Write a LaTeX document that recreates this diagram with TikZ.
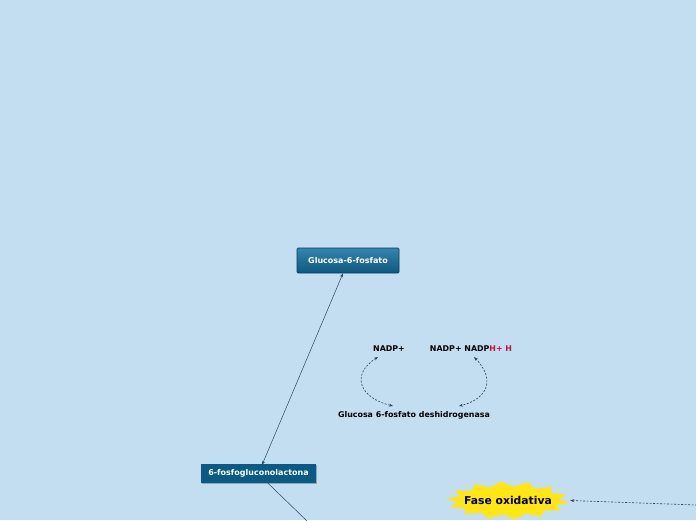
\documentclass[tikz,border=0pt]{standalone}
\usepackage{fontspec}
\setmainfont{DejaVu Sans}
\usetikzlibrary{arrows.meta,shadows}
\definecolor{bg}{HTML}{C3DEF1}
\definecolor{boxtop}{HTML}{3585AE}
\definecolor{boxbot}{HTML}{0C5880}
\definecolor{boxflat}{HTML}{0A5A86}
\definecolor{linec}{HTML}{2E4468}
\definecolor{redh}{HTML}{C8103C}
\definecolor{star}{HTML}{FFE614}
\tikzset{
  x=1pt,y=-1pt,
  topicbox/.style={draw=boxbot!70!black,line width=0.6pt,rounded corners=1pt,top color=boxtop,bottom color=boxbot,text=white,font=\bfseries\fontsize{8}{9}\selectfont,minimum width=102pt,minimum height=25pt,inner sep=0pt},
  flatbox/.style={fill=boxflat,text=white,font=\bfseries\fontsize{8}{9}\selectfont,minimum width=115pt,minimum height=19pt,inner sep=0pt,drop shadow={shadow xshift=1pt,shadow yshift=-1pt,fill=black,opacity=0.25}},
  lbl/.style={font=\bfseries\fontsize{7.9}{9}\selectfont,inner sep=1pt},
  conn/.style={draw=linec,line width=0.5pt},
  dconn/.style={draw=linec,line width=0.6pt,dash pattern=on 2pt off 1.5pt},
  tip/.style={-{Stealth[length=4pt,width=3pt]}},
}
\begin{document}
\begin{tikzpicture}
\fill[bg] (0,0) rectangle (696,520);
\useasboundingbox (0,0) rectangle (696,520);
\node[topicbox] (g6p) at (348,260.5) {Glucosa-6-fosfato};
\node[flatbox] (lac) at (258.5,473.5) {6-fosfogluconolactona};
\node[lbl] (nadp) at (389,348.5) {NADP+};
\node[lbl] (nadph) at (471,348.5) {NADP+ NADP\textcolor{redh}{H+ H}};
\node[lbl] (enz) at (414,415) {Glucosa 6-fosfato deshidrogenasa};
% starburst
\fill[star] plot[samples=28,domain=0:27,variable=\k] ({508+(62-11*mod(\k,2))*cos(\k*360/28+6)},{500.5+(19-5*mod(\k,2))*sin(\k*360/28+6)}) -- cycle;
\node[minimum width=124pt,minimum height=36pt,inner sep=0pt,font=\bfseries\fontsize{10.8}{12}\selectfont] (fase) at (508,500.5) {Fase oxidativa};
\coordinate (offb) at (307,521);
\coordinate (offr) at (697,505);
% connectors
\draw[conn,{Stealth[length=4pt,width=3pt]}-{Stealth[length=4pt,width=3pt]}] (262,465) -- (g6p.south -| 343,0);
\draw[conn] (lac.south -| 268,0) -- (offb);
\draw[dconn,tip] (offr) -- (fase.east);
\draw[dconn,{Stealth[length=4pt,width=3pt]}-{Stealth[length=4pt,width=3pt]}] (378,357) .. controls (350,375) and (360,398) .. (393,406);
\draw[dconn,{Stealth[length=4pt,width=3pt]}-{Stealth[length=4pt,width=3pt]}] (474,357) .. controls (498,382) and (484,400) .. (459,406);
\end{tikzpicture}
\end{document}
